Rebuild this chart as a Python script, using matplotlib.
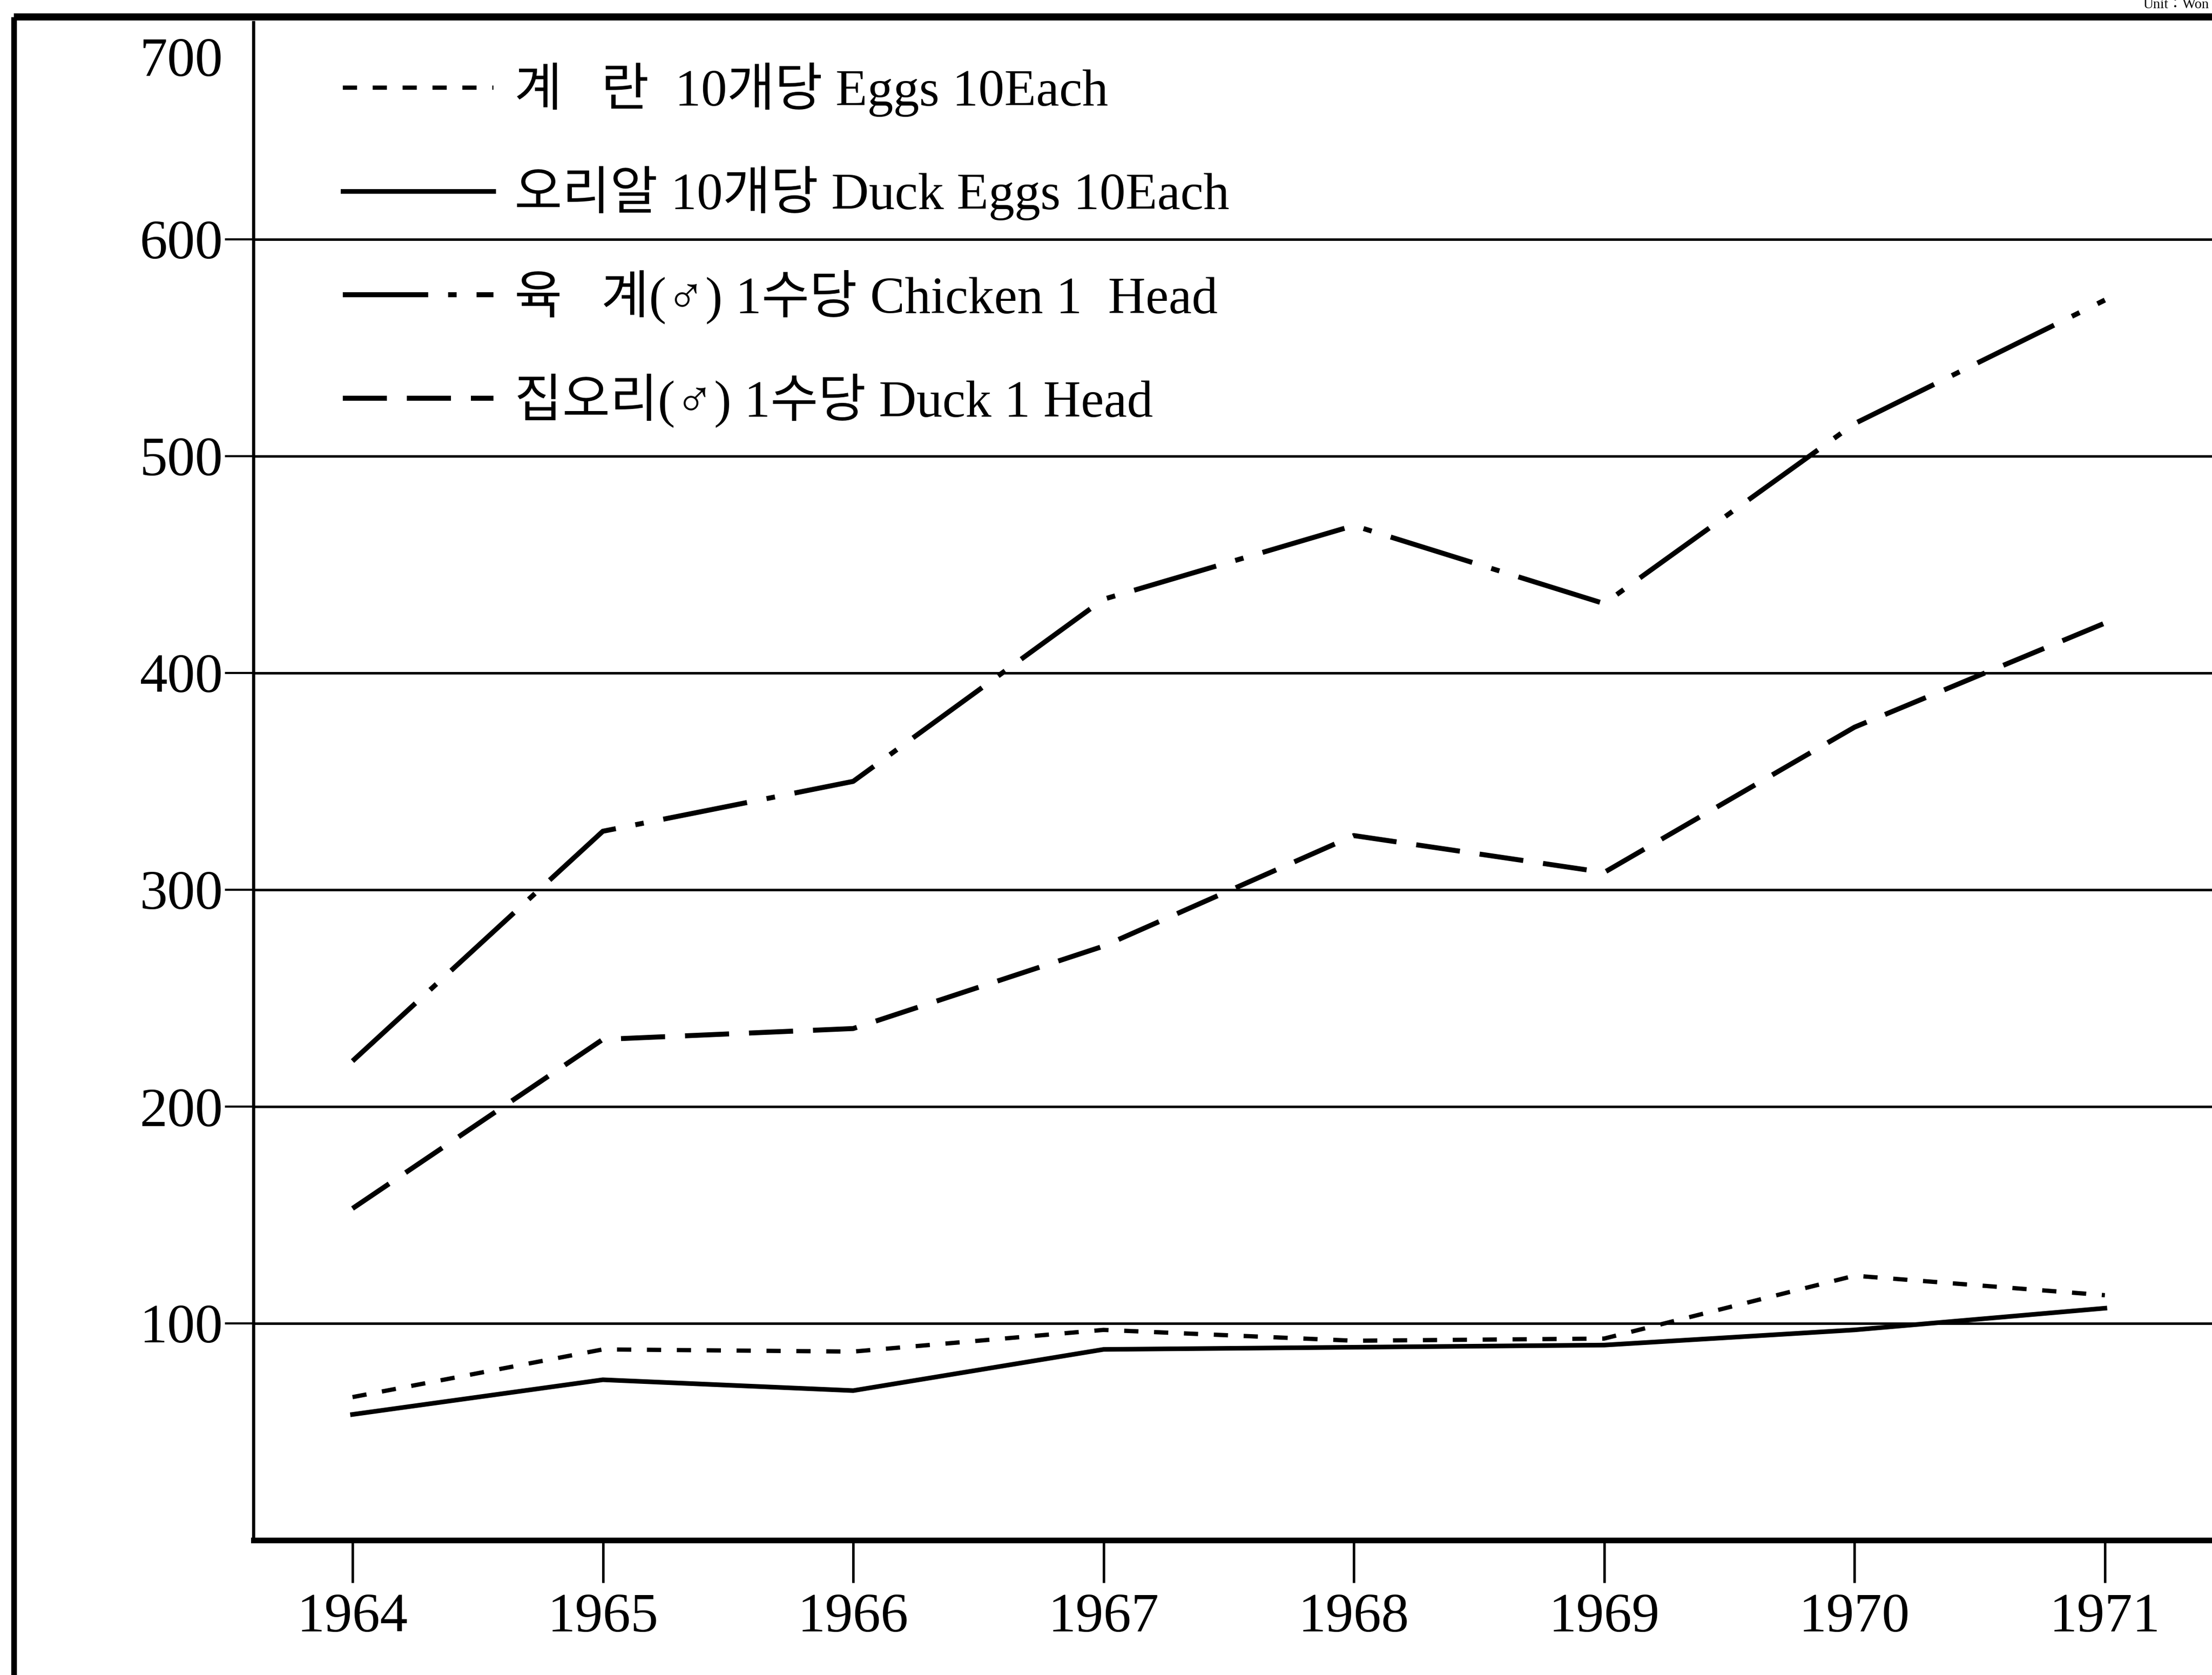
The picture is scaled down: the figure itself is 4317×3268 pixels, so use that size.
import matplotlib
matplotlib.use('Agg')
import matplotlib.pyplot as plt
from matplotlib.lines import Line2D
from matplotlib.transforms import ScaledTranslation

# poultry and egg prices (won), 1964-1971
years = [1964, 1965, 1966, 1967, 1968, 1969, 1970, 1971]
eggs = [66, 88, 87, 97, 92, 93, 122, 113]
duck_eggs = [58, 74, 69, 88, 89, 90, 97, 107]
chicken = [221, 327, 350, 434, 468, 432, 515, 572]
duck = [153, 231, 236, 274, 325, 308, 375, 423]

labels = ['계   란  10개당 Eggs 10Each',
          '오리알 10개당 Duck Eggs 10Each',
          '육   계(♂) 1수당 Chicken 1  Head',
          '집오리(♂) 1수당 Duck 1 Head']
yticks = [100, 200, 300, 400, 500, 600, 700]

plt.rcParams['font.family'] = ['Liberation Serif', 'Noto Sans CJK KR']
plt.rcParams['lines.scale_dashes'] = False

W, H = 4317, 3268
fig = plt.figure(figsize=(W / 100, H / 100), dpi=100)
ax = fig.add_axes([495 / W, 1 - 3005 / H, 1 - 495 / W, (3005 - 44) / H])

ax.plot(years, eggs, color='black', lw=6, dashes=(20, 22), label=labels[0])
ax.plot(years, duck_eggs, color='black', lw=6.5, label=labels[1])
ax.plot(years, chicken, color='black', lw=7, dashes=(120, 28, 12, 28), label=labels[2])
ax.plot(years, duck, color='black', lw=7, dashes=(62, 28), label=labels[3])

ax.set_xlim(1963.605, 1971.428)
ax.set_ylim(0, 700)
ax.set_xticks(years)
ax.set_yticks(yticks)
ax.tick_params(axis='x', direction='out', length=60, width=3.5, pad=14, labelsize=78)
ax.tick_params(axis='y', direction='out', length=40, width=3, pad=3, labelsize=78)

ax.yaxis.grid(True, color='black', lw=3.5)
ax.yaxis.get_gridlines()[-1].set_visible(False)

# the 700 label sits just under the frame, without a tick
top_tick = ax.yaxis.get_major_ticks()[-1]
top_tick.tick1line.set_visible(False)
lab = top_tick.label1
lab.set_transform(lab.get_transform() + ScaledTranslation(0, -48 / 72, fig.dpi_scale_trans))

for side in ['top', 'right']:
    ax.spines[side].set_visible(False)
ax.spines['left'].set_linewidth(4.5)
ax.spines['bottom'].set_linewidth(8)

# outer frame
fig.add_artist(Line2D([27 / W, 1], [1 - 33 / H, 1 - 33 / H], color='black', lw=10,
                      transform=fig.transFigure, solid_capstyle='butt'))
fig.add_artist(Line2D([27 / W, 27 / W], [0, 1 - 33 / H], color='black', lw=8,
                      transform=fig.transFigure, solid_capstyle='butt'))

fig.text(1 - 6 / W, 1 - 22 / H, 'Unit：Won', ha='right', va='bottom', fontsize=20)

ax.legend(loc='upper left', bbox_to_anchor=(669 / W, 1 - 122 / H),
          bbox_transform=fig.transFigure, frameon=False, fontsize=73,
          handlelength=2.9, handletextpad=0.4, labelspacing=0.95,
          borderpad=0, borderaxespad=0)

fig.savefig('out.png', dpi=100, facecolor='white')
